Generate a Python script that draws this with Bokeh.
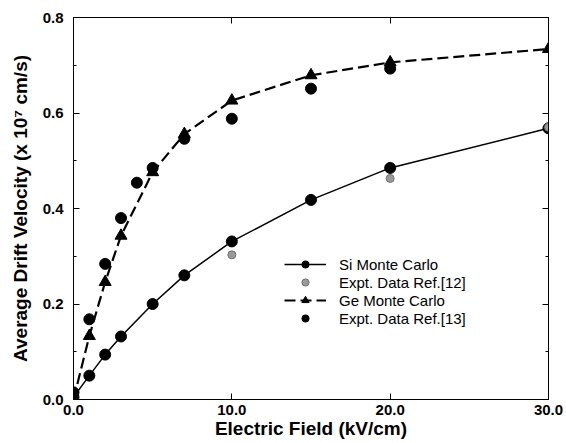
from bokeh.plotting import figure
from bokeh.models import Range1d, LinearAxis, FixedTicker, Legend, LegendItem, NumeralTickFormatter
from bokeh.embed import file_html
from bokeh.resources import INLINE

# ---- data ----
si_field = [0, 1, 2, 3, 5, 7, 10, 15, 20, 30]
si_mc = [0.005, 0.050, 0.094, 0.132, 0.200, 0.260, 0.331, 0.418, 0.485, 0.568]
si_expt_field = [10, 20, 30]
si_expt = [0.303, 0.463, 0.570]
ge_field = [0, 1, 2, 3, 5, 7, 10, 15, 20, 30]
ge_mc = [0.0, 0.133, 0.246, 0.343, 0.476, 0.556, 0.626, 0.679, 0.706, 0.734]
ge_expt_field = [0, 1, 2, 3, 4, 5, 7, 10, 15, 20]
ge_expt = [0.015, 0.168, 0.284, 0.380, 0.454, 0.485, 0.546, 0.588, 0.651, 0.693]
x_ticks = [0, 10, 20, 30]
y_ticks = [0.0, 0.2, 0.4, 0.6, 0.8]
y_minor = [0.1, 0.3, 0.5, 0.7]

FONT = "Liberation Sans"

p = figure(width=566, height=443, x_range=Range1d(0, 30), y_range=Range1d(0, 0.8),
           output_backend="svg", toolbar_location=None,
           min_border_left=73, min_border_right=18, min_border_top=17, min_border_bottom=44)
p.xgrid.visible = False
p.ygrid.visible = False
p.outline_line_color = "black"
p.outline_line_width = 1
p.background_fill_color = "white"
p.border_fill_color = "white"

xt = FixedTicker(ticks=x_ticks, minor_ticks=[])
yt = FixedTicker(ticks=y_ticks, minor_ticks=y_minor)


def style(ax, ticker, show_labels=True):
    ax.ticker = ticker
    ax.axis_line_color = "black"
    ax.major_tick_in = 6
    ax.major_tick_out = 0
    ax.minor_tick_in = 3
    ax.minor_tick_out = 0
    ax.major_tick_line_color = "black"
    ax.minor_tick_line_color = "black"
    ax.formatter = NumeralTickFormatter(format="0.0")
    ax.major_label_text_font = FONT
    ax.major_label_text_font_style = "bold"
    ax.major_label_text_font_size = "15px"
    ax.major_label_text_color = "black"
    if not show_labels:
        ax.major_label_overrides = {t: "" for t in ticker.ticks}
        ax.major_label_standoff = 0
    ax.axis_label_text_font = FONT
    ax.axis_label_text_font_style = "bold"
    ax.axis_label_text_font_size = "19px"
    ax.axis_label_text_color = "black"


style(p.xaxis[0], xt)
style(p.yaxis[0], yt)
p.xaxis[0].axis_label = "Electric Field (kV/cm)"
p.yaxis[0].axis_label = "Average Drift Velocity (x 10\u2077 cm/s)"
p.xaxis[0].major_label_standoff = 5
p.xaxis[0].axis_label_standoff = 0
p.yaxis[0].major_label_standoff = 10
p.yaxis[0].axis_label_standoff = 9

top = LinearAxis()
style(top, xt, show_labels=False)
p.add_layout(top, "above")
right = LinearAxis()
style(right, yt, show_labels=False)
p.add_layout(right, "right")

# ---- series ----
ge_line = p.line(ge_field, ge_mc, line_color="black", line_width=2.2, line_dash="11 5")
si_line = p.line(si_field, si_mc, line_color="black", line_width=1.5)
ge_exp = p.scatter(ge_expt_field, ge_expt, marker="circle", size=11,
                   fill_color="black", line_color="black")
ge_pts = p.scatter(ge_field, ge_mc, marker="triangle", size=12,
                   fill_color="black", line_color="black")
si_pts = p.scatter(si_field, si_mc, marker="circle", size=11,
                   fill_color="black", line_color="black")
si_exp = p.scatter(si_expt_field, si_expt, marker="circle", size=8,
                   fill_color="#9a9a9a", line_color="#707070")

legend = Legend(items=[
    LegendItem(label="Si Monte Carlo", renderers=[si_line, si_pts]),
    LegendItem(label="Expt. Data Ref.[12]", renderers=[si_exp]),
    LegendItem(label="Ge Monte Carlo", renderers=[ge_line, ge_pts]),
    LegendItem(label="Expt. Data Ref.[13]", renderers=[ge_exp]),
], location=(211, 72), border_line_color=None, background_fill_alpha=0,
    glyph_width=42, glyph_height=18, label_height=18, spacing=0, padding=2, margin=0,
    label_standoff=13, label_text_font=FONT, label_text_font_size="15px",
    label_text_color="black")
p.add_layout(legend)

open("out.html", "w").write(file_html(p, INLINE))
